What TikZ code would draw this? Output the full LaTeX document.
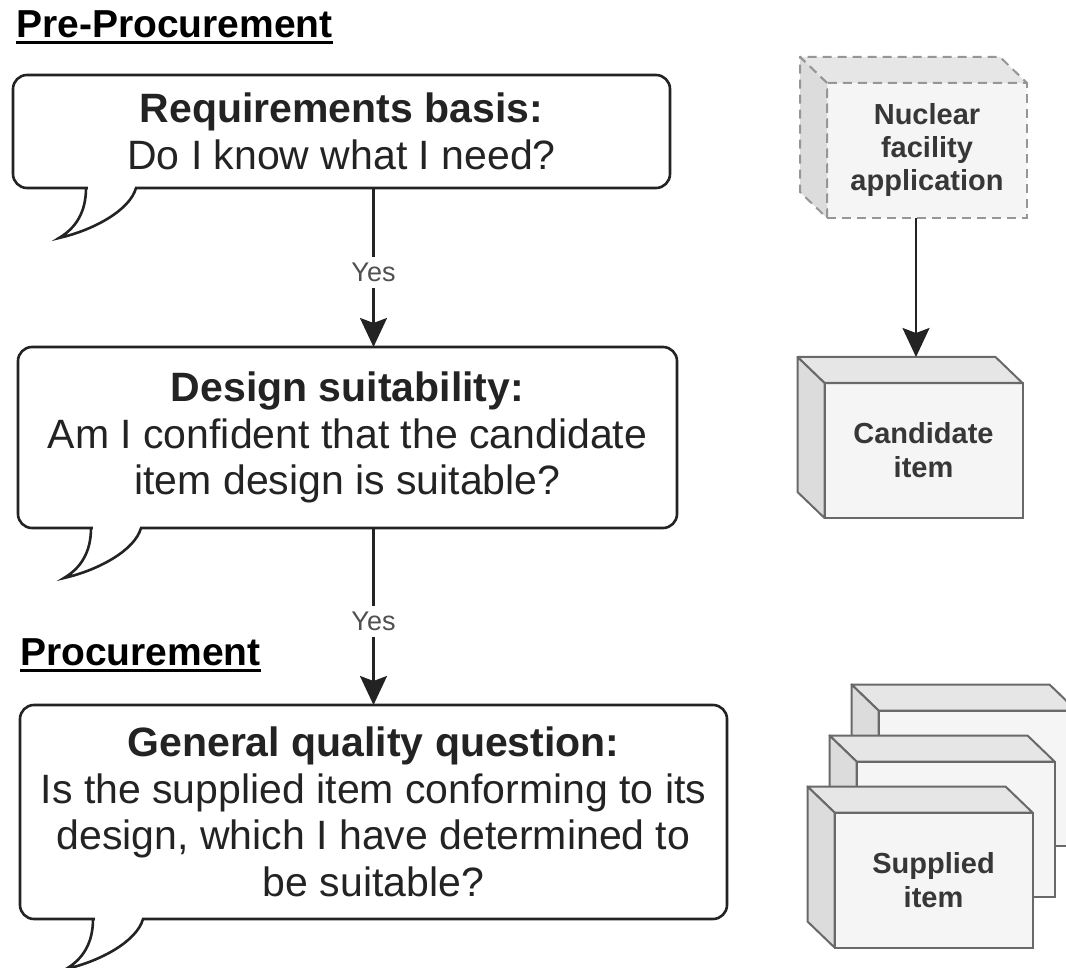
\documentclass[tikz,border=0pt]{standalone}
\usepackage{fontspec}
\setmainfont{Liberation Sans}
\usetikzlibrary{arrows.meta,positioning}
\definecolor{InkDark}{RGB}{35,35,35}
\definecolor{YesGray}{RGB}{80,80,80}
\definecolor{LabelGray}{RGB}{55,55,55}
\definecolor{BoxEdge}{RGB}{105,105,105}
\definecolor{DashEdge}{RGB}{150,150,150}
\definecolor{FaceFront}{RGB}{245,245,245}
\definecolor{FaceTop}{RGB}{230,230,230}
\definecolor{FaceSide}{RGB}{220,220,220}

\begin{document}
\begin{tikzpicture}[x=1pt, y=-1pt,
  callout/.style={draw=InkDark, line width=2.6pt, rounded corners=14pt, fill=white,
    align=center, inner sep=0pt, outer sep=0pt, text=InkDark,
    font=\fontsize{41}{46.5}\selectfont},
  tail/.style={draw=InkDark, line width=2.6pt},
  flow/.style={-{Stealth[length=29pt,width=27pt,inset=5pt]}, line width=2.4pt, draw=InkDark},
  yes/.style={fill=white, text=YesGray, inner xsep=2pt, inner ysep=6pt,
    font=\fontsize{27}{30}\selectfont},
  heading/.style={inner sep=0pt, text=black, font=\fontsize{39}{44}\selectfont\bfseries},
  cubefront/.style={draw=BoxEdge, line width=2pt, fill=FaceFront, minimum width=198pt,
    minimum height=135pt, inner sep=0pt, outer sep=0pt, align=center, text=LabelGray,
    font=\fontsize{29}{34}\selectfont\bfseries},
  cubetop/.style={draw=BoxEdge, line width=2pt, fill=FaceTop, line join=round},
  cubeside/.style={draw=BoxEdge, line width=2pt, fill=FaceSide, line join=round},
  ghost/.style={draw=DashEdge, dash pattern=on 9pt off 6pt}]
\useasboundingbox (0,0) rectangle (1066,968);
\clip (0,0) rectangle (1066,968);

% headings
\node[heading, anchor=base west] (pre) at (16,38) {Pre-Procurement};
\draw[line width=3pt] ([yshift=-5pt]pre.base west) -- ([yshift=-5pt]pre.base east);
\node[heading, anchor=base west] (proc) at (20,665) {Procurement};
\draw[line width=3pt] ([yshift=-5pt]proc.base west) -- ([yshift=-5pt]proc.base east);

% question callouts
\node[callout, minimum width=657pt, minimum height=113pt] (req) at (341.5,131.5)
  {\textbf{Requirements basis:}\\Do I know what I need?};
\fill[white] ([xshift=74.5pt,yshift=1.6pt]req.south west) rectangle ([xshift=121.5pt,yshift=-1.6pt]req.south west);
\draw[tail] ([xshift=73pt]req.south west) .. controls +(0,24) and +(17,-10) .. ++(-27,50)
  .. controls +(35,-8) and +(-6,22) .. ++(77,-50);

\node[callout, minimum width=659pt, minimum height=181pt] (design) at (347.5,437.5)
  {\textbf{Design suitability:}\\Am I confident that the candidate\\item design is suitable?};
\fill[white] ([xshift=74.5pt,yshift=1.6pt]design.south west) rectangle ([xshift=121.5pt,yshift=-1.6pt]design.south west);
\draw[tail] ([xshift=73pt]design.south west) .. controls +(0,24) and +(17,-10) .. ++(-27,50)
  .. controls +(35,-8) and +(-6,22) .. ++(77,-50);

\node[callout, minimum width=707pt, minimum height=214pt] (gq) at (373.5,812)
  {\textbf{General quality question:}\\Is the supplied item conforming to its\\design, which I have determined to\\be suitable?};
\fill[white] ([xshift=74.5pt,yshift=1.6pt]gq.south west) rectangle ([xshift=121.5pt,yshift=-1.6pt]gq.south west);
\draw[tail] ([xshift=73pt]gq.south west) .. controls +(0,24) and +(17,-10) .. ++(-27,50)
  .. controls +(35,-8) and +(-6,22) .. ++(77,-50);

\draw[flow] (req.south -| gq.north) -- node[yes, pos=0.53] (yes1) {Yes} (design.north -| gq.north);
\draw[flow] (design.south -| gq.north) -- node[yes, pos=0.53] (yes2) {Yes} (gq.north);

% item boxes
\node[cubefront, ghost, minimum width=200pt, font=\fontsize{29}{33}\selectfont\bfseries] (nuc) at (927,150.5)
  {Nuclear\\facility\\application};
\filldraw[cubetop, ghost] (nuc.north west) -- ++(-27,-26) -- ++(200,0) -- (nuc.north east) -- cycle;
\filldraw[cubeside, ghost] (nuc.north west) -- ++(-27,-26) -- ++(0,135) -- (nuc.south west) -- cycle;

\node[cubefront] (cand) at (923.5,450.5) {Candidate\\item};
\filldraw[cubetop] (cand.north west) -- ++(-27,-26) -- ++(198,0) -- (cand.north east) -- cycle;
\filldraw[cubeside] (cand.north west) -- ++(-27,-26) -- ++(0,135) -- (cand.south west) -- cycle;
\coordinate (candtop) at ([xshift=-7.5pt,yshift=26pt]cand.north);
\draw[flow] (nuc.south -| candtop) -- (candtop);

\node[cubefront] (sup3) at (977.5,778) {};
\filldraw[cubetop] (sup3.north west) -- ++(-27,-26) -- ++(198,0) -- (sup3.north east) -- cycle;
\filldraw[cubeside] (sup3.north west) -- ++(-27,-26) -- ++(0,135) -- (sup3.south west) -- cycle;

\node[cubefront] (sup2) at (955.5,829) {};
\filldraw[cubetop] (sup2.north west) -- ++(-27,-26) -- ++(198,0) -- (sup2.north east) -- cycle;
\filldraw[cubeside] (sup2.north west) -- ++(-27,-26) -- ++(0,135) -- (sup2.south west) -- cycle;

\node[cubefront] (sup1) at (933.5,880) {Supplied\\item};
\filldraw[cubetop] (sup1.north west) -- ++(-27,-26) -- ++(198,0) -- (sup1.north east) -- cycle;
\filldraw[cubeside] (sup1.north west) -- ++(-27,-26) -- ++(0,135) -- (sup1.south west) -- cycle;
\end{tikzpicture}
\end{document}
